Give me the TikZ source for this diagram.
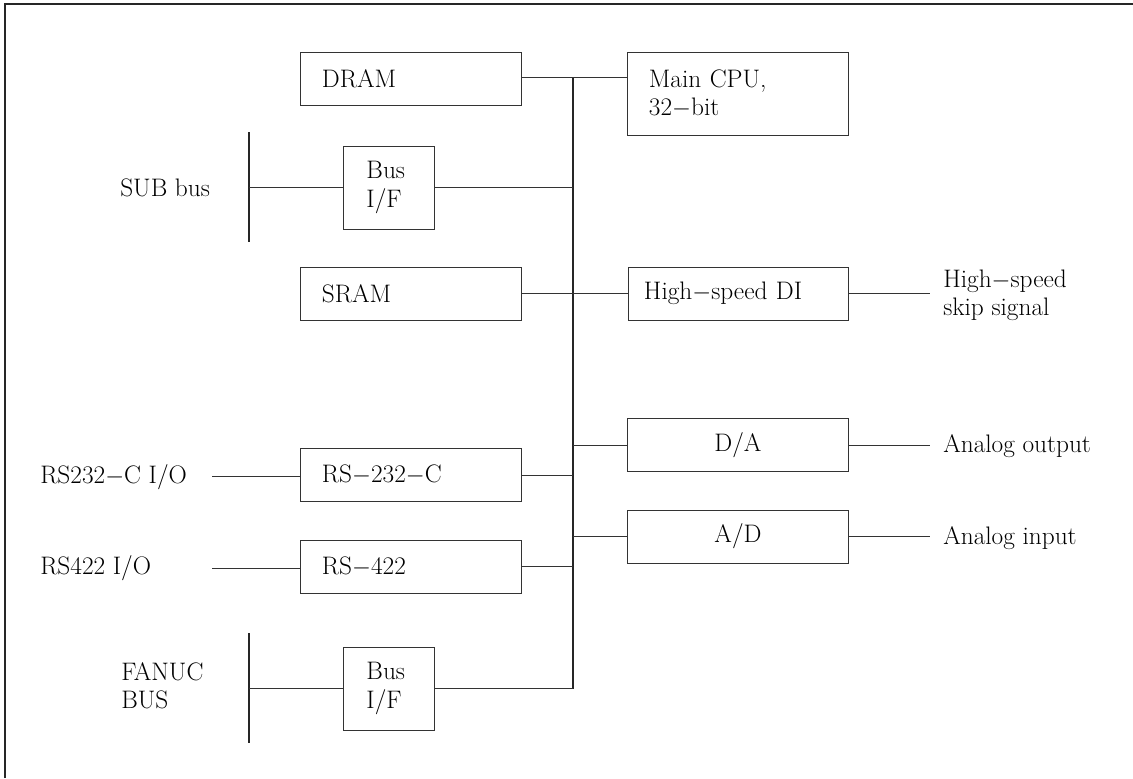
\documentclass[tikz,border=0pt]{standalone}
\begin{document}
\begin{tikzpicture}[x=0.025cm, y=-0.025cm,
    every node/.style={font=\fontsize{18}{20}\selectfont, text=black},
    widebox/.style={draw=black!80, line width=0.6pt, rectangle, minimum height=1.325cm,
      text width=4.425cm, inner xsep=0.55cm, align=left},
    smallbox/.style={draw=black!80, line width=0.6pt, rectangle, minimum height=2.075cm,
      text width=1.1cm, inner xsep=0.5875cm, align=left},
    link/.style={draw=black!80, line width=0.6pt},
    busline/.style={draw=black!85, line width=1.5pt},
    label/.style={anchor=west, inner sep=0pt, align=left}]
      \useasboundingbox (0,0) rectangle (1133,778);
      % Draw the outer frame (top and left side only)
      \draw[black!85, line width=1.2pt] (5,778) -- (5,4) -- (1133,4);
      % Place the units
      \node[widebox] (dram) at (410.5,78.5) {DRAM};
      \node[widebox, minimum height=2.075cm] (cpu) at (737.5,93.5) {Main CPU,\\32$-$bit};
      \node[smallbox] (subif) at (388.5,187.5) {Bus\\I/F};
      \node[widebox] (sram) at (410.5,293.5) {SRAM};
      \node[widebox, text width=4.7cm, inner xsep=0.4cm] (hsdi) at (738,293.5) {High$-$speed DI};
      \node[widebox] (rs232) at (410.5,475) {RS$-$232$-$C};
      \node[widebox] (rs422) at (410.5,566.5) {RS$-$422};
      \node[widebox, align=center] (da) at (738,445) {D/A};
      \node[widebox, align=center] (ad) at (738,536.5) {A/D};
      \node[smallbox] (fanif) at (388.5,688.5) {Bus\\I/F};
      % Place the outside labels
      \node[label] (subbus) at (120,188) {SUB bus};
      \node[label] (fanuc) at (121,686) {FANUC\\BUS};
      \node[label] (io232) at (40,477) {RS232$-$C I/O};
      \node[label] (io422) at (40,568) {RS422 I/O};
      \node[label] (skip) at (943,295) {High$-$speed\\skip signal};
      \node[label] (aout) at (943,446) {Analog output};
      \node[label] (ain) at (943,538) {Analog input};
      % Bus end points
      \coordinate (bustop) at (573,77);
      \coordinate (busbot) at (573,689);
      \coordinate (subtop) at (249,132);
      \coordinate (subbot) at (249,242);
      \coordinate (fantop) at (249,633);
      \coordinate (fanbot) at (249,743);
      \coordinate (end232) at (212,476);
      \coordinate (end422) at (212,568);
      \coordinate (endout) at (930,294);
      % Draw the buses
      \draw[busline] (bustop) -- (busbot);
      \draw[busline] (subtop) -- (subbot);
      \draw[busline] (fantop) -- (fanbot);
      % Draw the links to the main bus
      \draw[link] (dram.east |- bustop) -- (cpu.west |- bustop);
      \draw[link] (subif.east) -- (subif.east -| bustop);
      \draw[link] (sram.east) -- (hsdi.west);
      \draw[link] (bustop |- da.west) -- (da.west);
      \draw[link] (bustop |- ad.west) -- (ad.west);
      \draw[link] (rs232.east) -- (rs232.east -| bustop);
      \draw[link] (rs422.east) -- (rs422.east -| bustop);
      \draw[link] (fanif.east) -- (fanif.east -| busbot);
      % Draw the links to the outside
      \draw[link] (subtop |- subif.west) -- (subif.west);
      \draw[link] (fantop |- fanif.west) -- (fanif.west);
      \draw[link] (end232) -- (end232 -| rs232.west);
      \draw[link] (end422) -- (end422 -| rs422.west);
      \draw[link] (hsdi.east) -- (hsdi.east -| endout);
      \draw[link] (da.east) -- (da.east -| endout);
      \draw[link] (ad.east) -- (ad.east -| endout);
\end{tikzpicture}
\end{document}
